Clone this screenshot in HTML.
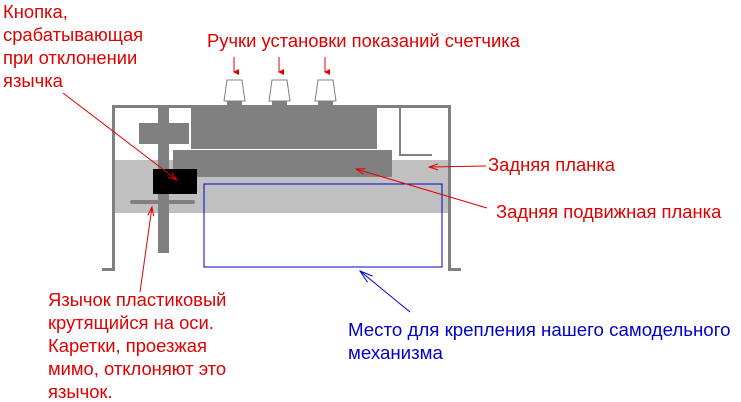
<!DOCTYPE html>
<html><head><meta charset="utf-8"><style>
html,body{margin:0;padding:0;background:#fff;}
svg{display:block;}
text{font-family:"Liberation Sans",Arial,sans-serif;font-size:18.4px;}
.r{fill:#e00000;} .b{fill:#0000cc;font-size:18.7px;}
</style></head><body>
<svg width="741" height="402" viewBox="0 0 741 402" xmlns="http://www.w3.org/2000/svg">
<defs>
<marker id="ar" markerWidth="10" markerHeight="8" refX="9" refY="4" orient="auto" markerUnits="userSpaceOnUse"><path d="M0,1 L9,4 L0,7" fill="none" stroke="#e00000" stroke-width="1"/></marker>
<marker id="ab" markerWidth="14" markerHeight="10" refX="13" refY="5" orient="auto" markerUnits="userSpaceOnUse"><path d="M0,1 L13,5 L0,9" fill="none" stroke="#0000cc" stroke-width="1"/></marker>
<marker id="as" markerWidth="6" markerHeight="6" refX="3" refY="5" orient="auto" markerUnits="userSpaceOnUse"><path d="M0,0 L3,6 L6,0 Z" fill="#e00000"/></marker>
</defs>
<rect x="115" y="160" width="333" height="53" fill="#c0c0c0"/>
<rect x="112" y="105" width="339" height="3" fill="#808080"/>
<rect x="112" y="105" width="3" height="166" fill="#808080"/>
<rect x="102" y="268" width="13" height="3" fill="#808080"/>
<rect x="448" y="105" width="3" height="166" fill="#808080"/>
<rect x="448" y="268" width="13" height="3" fill="#808080"/>
<path d="M400,108 V155 H432" fill="none" stroke="#808080" stroke-width="2"/>
<rect x="191" y="105" width="186" height="44" fill="#808080"/>
<rect x="173" y="150" width="219" height="27" fill="#808080"/>
<rect x="139" y="123" width="50" height="21" fill="#808080"/>
<rect x="158" y="105" width="11" height="148" fill="#808080"/>
<rect x="153" y="169" width="44" height="25" fill="#000"/>
<rect x="130" y="200" width="65" height="4" rx="2" fill="#808080"/>
<rect x="204" y="184" width="238" height="83" fill="none" stroke="#0000cc" stroke-width="1"/>
<g fill="#fff" stroke="#808080" stroke-width="1">
<path d="M227,80 H242 L245,101 H224 Z"/>
<path d="M272,80 H287 L290,101 H269 Z"/>
<path d="M318,80 H333 L336,101 H315 Z"/>
</g>
<g fill="#808080"><rect x="227" y="101" width="15" height="4"/><rect x="272" y="101" width="15" height="4"/><rect x="318" y="101" width="15" height="4"/></g>
<g stroke="#e00000" stroke-width="1" fill="none">
<line x1="234" y1="57" x2="234" y2="72" marker-end="url(#as)"/>
<line x1="279" y1="57" x2="279" y2="72" marker-end="url(#as)"/>
<line x1="325" y1="57" x2="325" y2="72" marker-end="url(#as)"/>
<line x1="63" y1="93" x2="177" y2="180" marker-end="url(#ar)"/>
<line x1="140" y1="292" x2="152" y2="207" marker-end="url(#ar)"/>
<line x1="486" y1="166" x2="429" y2="167" marker-end="url(#ar)"/>
<line x1="487" y1="208" x2="356" y2="169" marker-end="url(#ar)"/>
</g>
<line x1="410" y1="312" x2="360" y2="271" stroke="#0000cc" stroke-width="1" marker-end="url(#ab)"/>
<text class="r" x="3" y="18">Кнопка,</text>
<text class="r" x="3" y="41">срабатывающая</text>
<text class="r" x="3" y="64">при отклонении</text>
<text class="r" x="3" y="87">язычка</text>
<text class="r" x="207" y="47">Ручки установки показаний счетчика</text>
<text class="r" x="488" y="171">Задняя планка</text>
<text class="r" x="496" y="218">Задняя подвижная планка</text>
<text class="r" x="48" y="306">Язычок пластиковый</text>
<text class="r" x="48" y="329">крутящийся на оси.</text>
<text class="r" x="48" y="352">Каретки, проезжая</text>
<text class="r" x="48" y="375">мимо, отклоняют это</text>
<text class="r" x="48" y="398">язычок.</text>
<text class="b" x="348" y="336">Место для крепления нашего самодельного</text>
<text class="b" x="348" y="359">механизма</text>
</svg>
</body></html>
